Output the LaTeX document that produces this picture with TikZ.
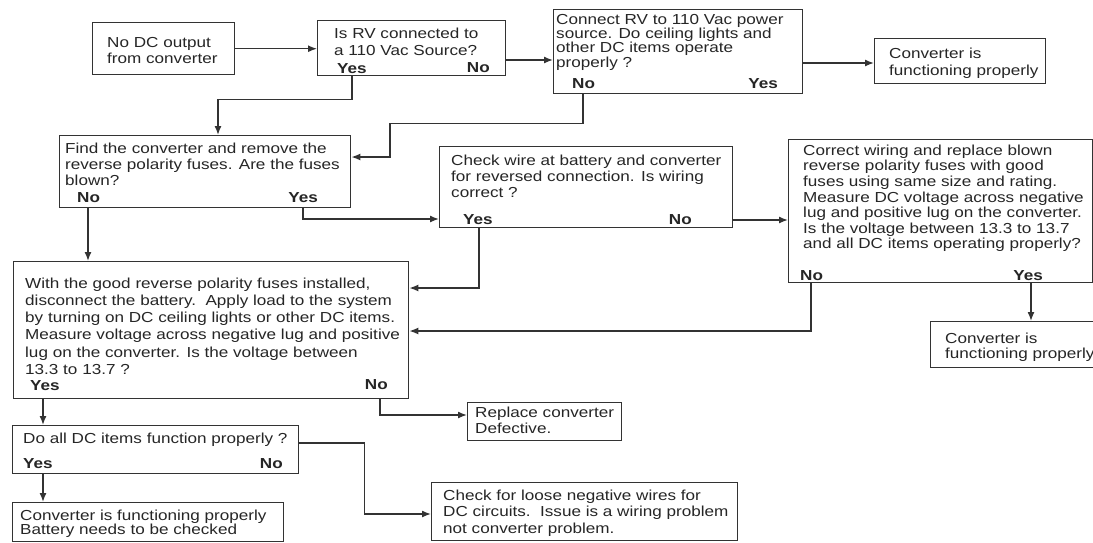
\documentclass[tikz,border=0pt]{standalone}
\usepackage{fontspec}
\setmainfont[FakeStretch=1.18]{Liberation Sans}
\usetikzlibrary{arrows.meta}
\newcommand\mytop{\rule{0pt}{11pt}}
\tikzset{
  box/.style={draw=black!80, line width=1.4pt, anchor=north west, inner sep=0pt, fill=white},
  txt/.style={anchor=north west, inner sep=0pt, align=left, text=black!85,
     font=\fontsize{14.5}{#1}\selectfont},
  txt/.default=16,
  lab/.style={inner sep=0pt, text=black!85, text height=10.4pt, text depth=0pt,
     font=\fontsize{14.5}{16}\selectfont\bfseries},
  conn/.style={draw=black!80, line width=1.4pt, -{Latex[length=9pt,width=7pt]}},
}
\begin{document}
\begin{tikzpicture}[x=1pt,y=-1pt]
\fill[white] (0,0) rectangle (1093,542);
\useasboundingbox (0,0) rectangle (1093,542);

% boxes
\node[box, minimum width=142pt, minimum height=52pt]  (A)   at (92,22) {};
\node[box, minimum width=188pt, minimum height=55pt]  (B)   at (317,20) {};
\node[box, minimum width=249pt, minimum height=84pt]  (C)   at (553,9) {};
\node[box, minimum width=171pt, minimum height=45pt]  (Cok) at (874,38) {};
\node[box, minimum width=291pt, minimum height=72pt]  (D)   at (59,135) {};
\node[box, minimum width=293pt, minimum height=81pt]  (E)   at (439,146) {};
\node[box, minimum width=304pt, minimum height=143pt] (G)   at (788,139) {};
\node[box, minimum width=395pt, minimum height=137pt] (F)   at (13,261) {};
\node[box, minimum width=170pt, minimum height=46pt]  (H)   at (930,321) {};
\node[box, minimum width=286pt, minimum height=48pt]  (I)   at (12,425) {};
\node[box, minimum width=154pt, minimum height=38pt]  (J)   at (467,402) {};
\node[box, minimum width=271pt, minimum height=39pt]  (K)   at (12,502) {};
\node[box, minimum width=306pt, minimum height=58pt]  (L)   at (431,482) {};

% connector end points
\coordinate (bc)   at ([yshift=-40pt]B.north east);
\coordinate (cc)   at ([yshift=-54pt]C.north east);
\coordinate (by)   at ([xshift=35pt]B.south west);
\coordinate (cn)   at ([xshift=30pt]C.south west);
\coordinate (dn)   at ([yshift=-22pt]D.north east);
\coordinate (dy)   at ([xshift=244pt]D.south west);
\coordinate (ey)   at ([yshift=-73pt]E.north west);
\coordinate (dno)  at ([xshift=29pt]D.south west);
\coordinate (eyes) at ([xshift=40pt]E.south west);
\coordinate (fr1)  at ([yshift=-27pt]F.north east);
\coordinate (eno)  at ([yshift=-74pt]E.north east);
\coordinate (gno)  at ([xshift=23pt]G.south west);
\coordinate (fr2)  at ([yshift=-70pt]F.north east);
\coordinate (gyes) at ([xshift=243pt]G.south west);
\coordinate (fyes) at ([xshift=30pt]F.south west);
\coordinate (fno)  at ([xshift=367pt]F.south west);
\coordinate (jl)   at ([yshift=-13pt]J.north west);
\coordinate (iyes) at ([xshift=31pt]I.south west);
\coordinate (ino)  at ([yshift=-18pt]I.north east);
\coordinate (ll)   at ([yshift=-32pt]L.north west);

% connectors
\draw[conn] (A.east) -- (A.east -| B.west);
\draw[conn] (bc) -- (bc -| C.west);
\draw[conn] (cc) -- (cc -| Cok.west);
\draw[conn] (by) -- ++(0,23) -| ([xshift=159pt]D.north west);
\draw[conn] (cn) -- ++(0,29) -- ++(-193,0) |- (dn);
\draw[conn] (dy) |- (ey);
\draw[conn] (dno) -- (dno |- F.north);
\draw[conn] (eyes) |- (fr1);
\draw[conn] (eno) -- (eno -| G.west);
\draw[conn] (gno) |- (fr2);
\draw[conn] (gyes) -- (gyes |- H.north);
\draw[conn] (fyes) -- (fyes |- I.north);
\draw[conn] (fno) |- (jl);
\draw[conn] (iyes) -- (iyes |- K.north);
\draw[conn] (ino) -- ++(65,0) |- (ll);

% texts
\node[txt=16]   (At)   at (107,36)  {\mytop No DC output\\from converter};
\node[txt=17]   (Bt)   at (334,27)  {\mytop Is RV connected to\\a 110 Vac Source?};
\node[lab, anchor=west] (By) at (337,68) {Yes};
\node[lab, anchor=east] (Bn) at (490,67) {No};
\node[txt=14.3] (Ct)   at (556,13)  {\mytop Connect RV to 110 Vac power\\source. Do ceiling lights and\\other DC items operate\\properly ?};
\node[lab, anchor=west] (Cn) at (572,83) {No};
\node[lab, anchor=east] (Cy) at (778,83) {Yes};
\node[txt=17]   (Cokt) at (889,47)  {\mytop Converter is\\functioning properly};
\node[txt=16]   (Dt)   at (65,142)  {\mytop Find the converter and remove the\\reverse polarity fuses. Are the fuses\\blown?};
\node[lab, anchor=west] (Dn) at (77,197) {No};
\node[lab, anchor=east] (Dy) at (318,197) {Yes};
\node[txt=16]   (Et)   at (451,154) {\mytop Check wire at battery and converter\\for reversed connection. Is wiring\\correct ?};
\node[lab, anchor=west] (Ey) at (463,219) {Yes};
\node[lab, anchor=east] (En) at (692,219) {No};
\node[txt=15.6] (Gt)   at (803,144) {\mytop Correct wiring and replace blown\\reverse polarity fuses with good\\fuses using same size and rating.\\Measure DC voltage across negative\\lug and positive lug on the converter.\\Is the voltage between 13.3 to 13.7\\and all DC items operating properly?};
\node[lab, anchor=west] (Gn) at (800,275) {No};
\node[lab, anchor=east] (Gy) at (1043,275) {Yes};
\node[txt=17.2] (Ft)   at (25,277)  {\mytop With the good reverse polarity fuses installed,\\disconnect the battery.\ \ Apply load to the system\\by turning on DC ceiling lights or other DC items.\\Measure voltage across negative lug and positive\\lug on the converter. Is the voltage between\\13.3 to 13.7 ?};
\node[lab, anchor=west] (Fy) at (30,385) {Yes};
\node[lab, anchor=east] (Fn) at (388,384) {No};
\node[txt=15]   (Ht)   at (945,332) {\mytop Converter is\\functioning properly};
\node[txt=16]   (It)   at (23,432)  {\mytop Do all DC items function properly ?};
\node[lab, anchor=west] (Iy) at (23,463) {Yes};
\node[lab, anchor=east] (In) at (283,463) {No};
\node[txt=16]   (Jt)   at (475,406) {\mytop Replace converter\\Defective.};
\node[txt=14]   (Kt)   at (20,509)  {\mytop Converter is functioning properly\\Battery needs to be checked};
\node[txt=16.7] (Lt)   at (443,489) {\mytop Check for loose negative wires for\\DC circuits.\ \ Issue is a wiring problem\\not converter problem.};
\end{tikzpicture}
\end{document}
